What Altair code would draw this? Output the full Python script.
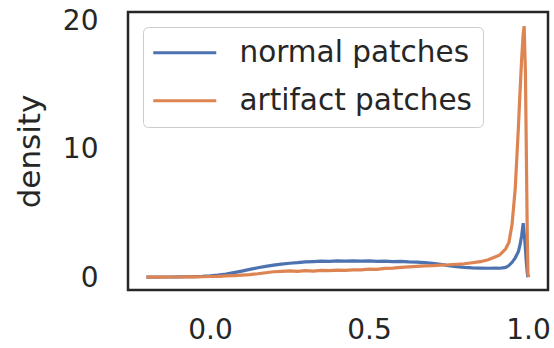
import altair as alt
import pandas as pd

# normal patches
normal_x = [-0.2, -0.175, -0.15, -0.125, -0.1, -0.075, -0.05, -0.025, 0.0, 0.025,
            0.05, 0.075, 0.1, 0.125, 0.15, 0.175, 0.2, 0.225, 0.25, 0.275,
            0.3, 0.325, 0.35, 0.375, 0.4, 0.425, 0.45, 0.475, 0.5, 0.525,
            0.55, 0.575, 0.6, 0.625, 0.65, 0.675, 0.7, 0.725, 0.75, 0.775,
            0.8, 0.825, 0.85, 0.875, 0.9, 0.91, 0.92, 0.93, 0.94, 0.95,
            0.96, 0.97, 0.975, 0.98, 0.985, 0.99, 0.995, 0.998, 1.0]
normal_y = [0.10, 0.10, 0.11, 0.11, 0.12, 0.13, 0.14, 0.16, 0.20, 0.26,
            0.34, 0.45, 0.57, 0.70, 0.83, 0.94, 1.03, 1.11, 1.18, 1.22,
            1.28, 1.31, 1.35, 1.32, 1.37, 1.34, 1.37, 1.35, 1.36, 1.33,
            1.35, 1.31, 1.32, 1.28, 1.27, 1.22, 1.18, 1.10, 1.00, 0.92,
            0.86, 0.82, 0.80, 0.79, 0.80, 0.79, 0.82, 0.86, 1.00, 1.25,
            1.60, 2.10, 2.60, 3.30, 4.30, 3.00, 1.20, 0.40, 0.10]

# artifact patches
artifact_x = [-0.2, -0.175, -0.15, -0.125, -0.1, -0.075, -0.05, -0.025, 0.0, 0.025,
              0.05, 0.075, 0.1, 0.125, 0.15, 0.175, 0.2, 0.225, 0.25, 0.275,
              0.3, 0.325, 0.35, 0.375, 0.4, 0.425, 0.45, 0.475, 0.5, 0.525,
              0.55, 0.575, 0.6, 0.625, 0.65, 0.675, 0.7, 0.725, 0.75, 0.775,
              0.8, 0.825, 0.85, 0.875, 0.9, 0.91, 0.92, 0.93, 0.94, 0.95,
              0.96, 0.97, 0.975, 0.98, 0.985, 0.988, 0.992, 0.995, 0.998, 1.0, 1.003]
artifact_y = [0.10, 0.10, 0.10, 0.11, 0.11, 0.12, 0.12, 0.13, 0.15, 0.16,
              0.19, 0.22, 0.26, 0.30, 0.36, 0.44, 0.52, 0.55, 0.58, 0.55,
              0.60, 0.57, 0.62, 0.60, 0.64, 0.62, 0.67, 0.66, 0.72, 0.70,
              0.78, 0.80, 0.86, 0.90, 0.94, 0.98, 1.00, 1.04, 1.06, 1.10,
              1.14, 1.22, 1.30, 1.45, 1.70, 1.80, 2.05, 2.30, 2.80, 4.20,
              7.00, 11.8, 14.5, 17.0, 19.0, 19.6, 16.0, 9.5, 3.0, 0.3, 0.1]

series = ["normal patches", "artifact patches"]
colors = ["#4c72b0", "#dd8452"]

df = pd.concat([
    pd.DataFrame({"x": normal_x, "y": normal_y, "kind": series[0], "o": range(len(normal_x))}),
    pd.DataFrame({"x": artifact_x, "y": artifact_y, "kind": series[1], "o": range(len(artifact_x))}),
])

TXT = "#262626"
FONT = "DejaVu Sans"

chart = alt.Chart(df).mark_line(strokeWidth=3.2, clip=True).encode(
    x=alt.X("x:Q",
            scale=alt.Scale(domain=[-0.258, 1.063], nice=False, zero=False),
            axis=alt.Axis(values=[0.0, 0.5, 1.0], format=".1f", title=None,
                          grid=False, domain=False, ticks=False,
                          labelFontSize=28, labelColor=TXT, labelFont=FONT,
                          labelPadding=26)),
    y=alt.Y("y:Q",
            scale=alt.Scale(domain=[-0.9, 20.7], nice=False, zero=False),
            axis=alt.Axis(values=[0, 10, 20], title="density",
                          grid=False, domain=False, ticks=False,
                          labelFontSize=28, labelColor=TXT, labelFont=FONT,
                          labelPadding=30, titleFontSize=31, titleColor=TXT,
                          titleFont=FONT, titleFontWeight="normal", titlePadding=16)),
    color=alt.Color("kind:N",
                    scale=alt.Scale(domain=series, range=colors),
                    legend=alt.Legend(title=None, orient="none", legendX=15, legendY=15,
                                      symbolType="M-3,0H3", symbolSize=441,
                                      symbolOffset=16,
                                      symbolStrokeWidth=3, labelFontSize=29.5,
                                      labelFont=FONT, labelColor=TXT, labelOffset=40,
                                      padding=11, rowPadding=17,
                                      strokeColor="#cccccc",
                                      cornerRadius=5, fillColor="white",
                                      labelLimit=400)),
    order="o:Q",
).properties(
    width=420, height=278,
    padding={"left": 128, "top": 12, "right": 6, "bottom": 58},
    autosize="none",
    background="white",
).configure_view(
    stroke=TXT, strokeWidth=2.5
)

chart.save("out.html", embed_options={"renderer": "svg", "actions": False})
